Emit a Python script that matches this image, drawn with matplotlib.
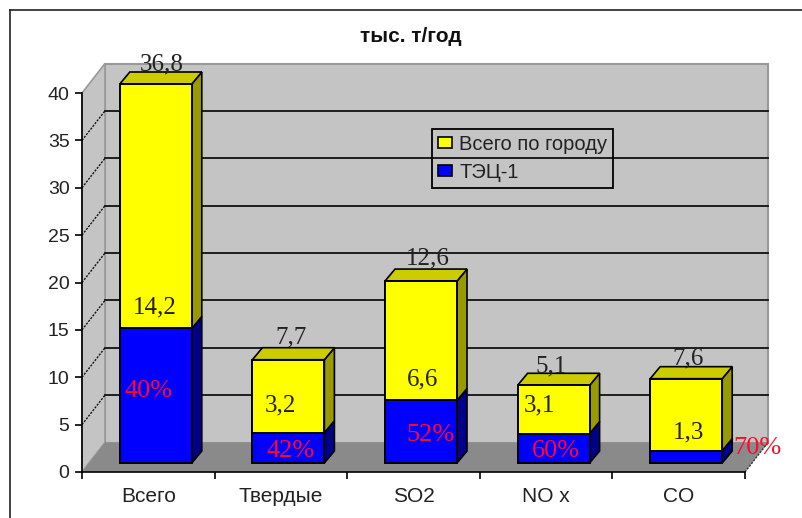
import matplotlib
matplotlib.use('Agg')
import matplotlib.pyplot as plt
import numpy as np
from matplotlib.lines import Line2D
from matplotlib.patches import Patch, Polygon

categories = ['Всего', 'Твердые', 'SO2', 'NO x', 'CO']
city_total = [36.8, 7.7, 12.6, 5.1, 7.6]
tec_part = [14.2, 3.2, 6.6, 3.1, 1.3]
tec_share = ['40%', '42%', '52%', '60%', '70%']
y_ticks = [0, 5, 10, 15, 20, 25, 30, 35, 40]
series_names = ['Всего по городу', 'ТЭЦ-1']
title = 'тыс. т/год'

# label offsets in px, from the bar front centre at the value
total_off = [(6, 20), (3, 22), (7, 23), (-2, 19), (2, 20)]
part_off = [(-1, 21), (-8, 27), (2, 21), (-14, 28), (2, 18)]
share_off = [(-7, -63), (2, -18), (9, -35), (2, -17), (71, 3)]

W, H = 803, 518
AX_L, AX_R, AX_B, AX_T = 82, 745, 472, 93
YMAX = 40

fig = plt.figure(figsize=(W / 100, H / 100), dpi=100)
ax = fig.add_axes([AX_L / W, 1 - AX_B / H, (AX_R - AX_L) / W, (AX_B - AX_T) / H])
ax.set_xlim(-0.5, 4.5)
ax.set_ylim(0, YMAX)
ax.patch.set_visible(False)

# px to data units
px_x = 5 / (AX_R - AX_L)
px_y = YMAX / (AX_B - AX_T)
depth_x, depth_y = 23 * px_x, 29.5 * px_y
bar_dx, bar_dy = 10 * px_x, 12 * px_y
shift_x, shift_y = 7.5 * px_x, 9 * px_y
bar_w = 72 * px_x

wall = '#c4c4c4'
edge = '#999999'
x0, x1 = -0.5, 4.5

# walls and floor
ax.add_patch(Polygon([(x0 + depth_x, depth_y), (x1 + depth_x, depth_y),
                      (x1 + depth_x, YMAX + depth_y), (x0 + depth_x, YMAX + depth_y)],
                     fc=wall, ec=edge, lw=1.5, clip_on=False, zorder=1))
ax.add_patch(Polygon([(x0, 0), (x0 + depth_x, depth_y), (x0 + depth_x, YMAX + depth_y), (x0, YMAX)],
                     fc=wall, ec=edge, lw=1.2, clip_on=False, zorder=1))
ax.add_patch(Polygon([(x0, 0), (x1, 0), (x1 + depth_x, depth_y), (x0 + depth_x, depth_y)],
                     fc='#8a8a8a', ec='none', clip_on=False, zorder=1.5))

# gridlines on the back and side walls
for v in y_ticks[1:-1]:
    ax.plot([x0 + depth_x, x1 + depth_x], [v + depth_y, v + depth_y], color='#111111', lw=1.3,
            clip_on=False, zorder=2)
    ax.plot([x0, x0 + depth_x], [v, v + depth_y], color='#111111', lw=1.0, ls=(0, (1.5, 1)),
            clip_on=False, zorder=2)
ax.plot([x1, x1 + depth_x], [0, depth_y], color='#333333', lw=1.0, ls=(0, (1.5, 1)), clip_on=False, zorder=2)

# stacked bars, cut off at the top of the axis
tec = np.array(tec_part)
top = np.minimum(tec + np.array(city_total), YMAX)
xs = np.arange(len(categories)) + shift_x


def box(x, y0, y1, front, side, roof):
    left, right = x - bar_w / 2, x + bar_w / 2
    ax.bar(x, y1 - y0, bar_w, bottom=y0 + shift_y, color=front, ec='black', lw=1.4, clip_on=False, zorder=4)
    ax.add_patch(Polygon([(right, y0 + shift_y), (right + bar_dx, y0 + shift_y + bar_dy),
                          (right + bar_dx, y1 + shift_y + bar_dy), (right, y1 + shift_y)],
                         fc=side, ec='black', lw=1.2, clip_on=False, zorder=3))
    if roof:
        ax.add_patch(Polygon([(left, y1 + shift_y), (left + bar_dx, y1 + shift_y + bar_dy),
                              (right + bar_dx, y1 + shift_y + bar_dy), (right, y1 + shift_y)],
                             fc=roof, ec='black', lw=1.2, clip_on=False, zorder=3))


for i, x in enumerate(xs):
    box(x, 0, tec[i], '#0000ff', '#00008a', None)
    box(x, tec[i], top[i], '#ffff00', '#999900', '#cccc00')

# value labels
serif = 'Liberation Serif'
for i, x in enumerate(xs):
    ax.annotate(str(city_total[i]).replace('.', ','), (x, top[i] + shift_y), xytext=total_off[i],
                textcoords='offset pixels', ha='center', va='center', family=serif, fontsize=18,
                color='#222222', zorder=6, annotation_clip=False)
    ax.annotate(str(tec_part[i]).replace('.', ','), (x, tec[i] + shift_y), xytext=part_off[i],
                textcoords='offset pixels', ha='center', va='center', family=serif, fontsize=18,
                color='#222200', zorder=6, annotation_clip=False)
    ax.annotate(tec_share[i], (x, tec[i] + shift_y), xytext=share_off[i],
                textcoords='offset pixels', ha='center', va='center', family=serif, fontsize=19,
                color='#ff0a2a', zorder=6, annotation_clip=False)

# axes
sans = 'Liberation Sans'
for s in ['top', 'right']:
    ax.spines[s].set_visible(False)
for s in ['left', 'bottom']:
    ax.spines[s].set_linewidth(1.2)
    ax.spines[s].set_zorder(5)
ax.set_yticks(y_ticks)
ax.set_xticks(np.arange(len(categories)))
ax.set_xticklabels(categories)
ax.set_xticks(np.arange(len(categories) + 1) - 0.5, minor=True)
ax.tick_params(axis='y', length=5, width=1.2, pad=4, labelsize=14, labelcolor='#222222')
ax.tick_params(axis='x', which='major', length=0, pad=11, labelsize=15, labelcolor='#222222')
ax.tick_params(axis='x', which='minor', length=5, width=1.2)
for t in ax.get_xticklabels() + ax.get_yticklabels():
    t.set_family(sans)

fig.text(411 / W, 1 - 37 / H, title, family=sans, fontweight='bold', fontsize=15,
         ha='center', va='center', color='#111111')

# legend sits over the gridlines, no fill
handles = [Patch(fc='#ffff00', ec='black', lw=1.2), Patch(fc='#0000ff', ec='black', lw=1.2)]
leg = fig.legend(handles, series_names, loc='upper left', bbox_to_anchor=(432 / W, 1 - 129 / H),
                 frameon=True, fancybox=False, facecolor='none', edgecolor='black',
                 prop={'family': sans, 'size': 14.5}, labelcolor='#222222', handlelength=0.7,
                 handleheight=0.45, handletextpad=0.35, labelspacing=0.42, borderpad=0.3,
                 borderaxespad=0)
leg.get_frame().set_linewidth(1.3)
leg.get_frame().set_alpha(None)
leg.set_zorder(7)

# outer frame, only left and top show
for xd, yd in [([10, 10], [10, H]), ([10, W], [10, 10])]:
    fig.add_artist(Line2D(np.array(xd) / W, 1 - np.array(yd) / H, color='#222222', lw=1.2))

fig.savefig('out.png', dpi=100)
